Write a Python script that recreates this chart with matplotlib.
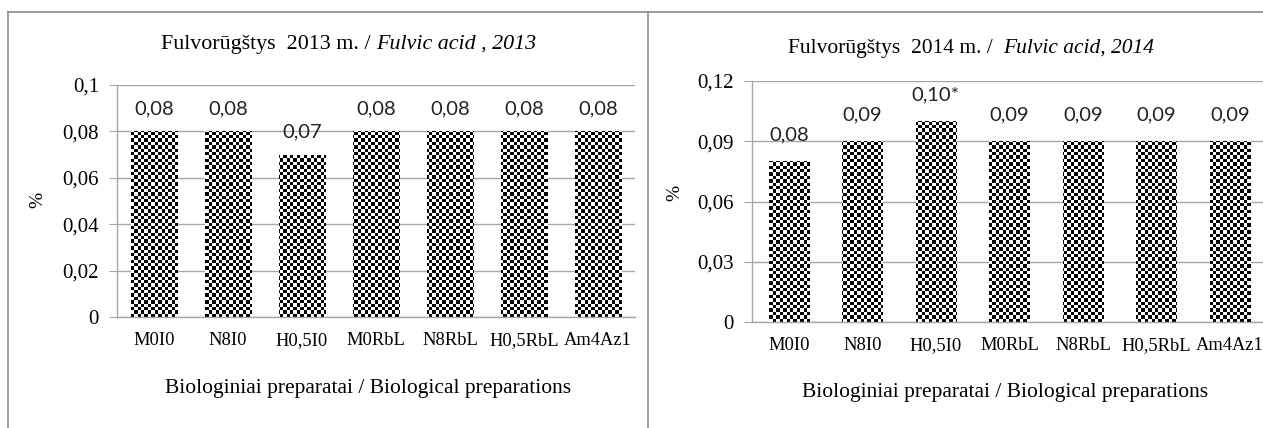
import numpy as np
import matplotlib
matplotlib.use("Agg")
import matplotlib.pyplot as plt
from matplotlib.ticker import MultipleLocator, FuncFormatter
from matplotlib.lines import Line2D

categories = ["M0I0", "N8I0", "H0,5I0", "M0RbL", "N8RbL", "H0,5RbL", "Am4Az1"]
values_2013 = [0.08, 0.08, 0.07, 0.08, 0.08, 0.08, 0.08]
labels_2013 = ["0,08", "0,08", "0,07", "0,08", "0,08", "0,08", "0,08"]
values_2014 = [0.08, 0.09, 0.10, 0.09, 0.09, 0.09, 0.09]
labels_2014 = ["0,08", "0,09", "0,10*", "0,09", "0,09", "0,09", "0,09"]

W, H = 1263, 428
fig = plt.figure(figsize=(W / 100, H / 100), dpi=100)

SERIF = "Liberation Serif"
SANS = "Lato"
GRID = "#a6a6a6"


def fx(px):
    return px / W


def fy(py):
    return 1 - py / H


def comma_fmt(v, pos):
    s = "%g" % round(v, 4)
    return s.replace(".", ",")


def checker_fill(ax, bars, cell=3.4):
    fig.canvas.draw()
    bb = ax.get_window_extent()
    nx = int(bb.width / cell) + 1
    ny = int(bb.height / cell) + 1
    yy, xx = np.mgrid[0:ny, 0:nx]
    board = ((xx + yy) % 2).astype(float)
    for b in bars:
        b.set_facecolor("white")
        b.set_edgecolor("none")
        im = ax.imshow(board, cmap="gray", vmin=0, vmax=1, extent=[0, 1, 0, 1],
                       transform=ax.transAxes, interpolation="nearest",
                       aspect="auto", zorder=2)
        im.set_clip_path(b)


def make_panel(rect, values, labels, ymax, step, offset_px, bw):
    ax = fig.add_axes(rect)
    x = np.arange(len(categories))
    bars = ax.bar(x, values, width=bw, color="black", zorder=2)
    ax.set_xlim(-0.5, len(categories) - 0.5)
    ax.set_ylim(0, ymax)
    ax.yaxis.set_major_locator(MultipleLocator(step))
    ax.yaxis.set_major_formatter(FuncFormatter(comma_fmt))
    ax.set_xticks(x)
    ax.set_xticklabels(categories, fontfamily=SERIF, fontsize=13.3)
    for lab in ax.get_yticklabels():
        lab.set_fontfamily(SERIF)
        lab.set_fontsize(15)
    ax.tick_params(axis="x", length=0, pad=11)
    ax.tick_params(axis="y", length=6, color=GRID, pad=7)
    ax.grid(axis="y", color=GRID, linewidth=1)
    ax.set_axisbelow(True)
    for s in ["top", "right"]:
        ax.spines[s].set_visible(False)
    for s in ["left", "bottom"]:
        ax.spines[s].set_color(GRID)
        ax.spines[s].set_linewidth(1)
    for b, v, lab in zip(bars, values, labels):
        ax.annotate(lab, (b.get_x() + b.get_width() / 2, v),
                    xytext=(0, offset_px), textcoords="offset pixels",
                    ha="center", va="center", fontfamily=SANS, fontsize=14.5,
                    color="#222222")
    return ax, bars


ax1, bars1 = make_panel([fx(117), fy(317), fx(635 - 117), (317 - 85) / H],
                        values_2013, labels_2013, 0.1, 0.02, 23, 0.63)
ax2, bars2 = make_panel([fx(752), fy(322), fx(1267 - 752), (322 - 81) / H],
                        values_2014, labels_2014, 0.12, 0.03, 26, 0.55)
checker_fill(ax1, bars1)
checker_fill(ax2, bars2)

# titles with mixed italic
fig.text(fx(376), fy(44), "Fulvorūgštys  2013 m. / ", ha="right", va="center",
         fontfamily=SERIF, fontsize=15.8)
fig.text(fx(376), fy(44), "Fulvic acid , 2013", ha="left", va="center",
         fontfamily=SERIF, fontsize=15.8, style="italic")
fig.text(fx(1003), fy(48), "Fulvorūgštys  2014 m. /  ", ha="right", va="center",
         fontfamily=SERIF, fontsize=15.5)
fig.text(fx(1003), fy(48), "Fulvic acid, 2014", ha="left", va="center",
         fontfamily=SERIF, fontsize=15.5, style="italic")

# axis labels
fig.text(fx(368), fy(389), "Biologiniai preparatai / Biological preparations",
         ha="center", va="center", fontfamily=SERIF, fontsize=15.5)
fig.text(fx(1005), fy(393), "Biologiniai preparatai / Biological preparations",
         ha="center", va="center", fontfamily=SERIF, fontsize=15.5)
fig.text(fx(38), fy(200), "%", rotation=90, ha="center", va="center",
         fontfamily=SERIF, fontsize=14)
fig.text(fx(675), fy(193), "%", rotation=90, ha="center", va="center",
         fontfamily=SERIF, fontsize=14)

# panel frames
fc = "#8c8c8c"
fig.add_artist(Line2D([fx(8), 1], [fy(12), fy(12)], color=fc, lw=1.2))
fig.add_artist(Line2D([fx(8), fx(8)], [fy(12), 0], color=fc, lw=1.2))
fig.add_artist(Line2D([fx(648), fx(648)], [fy(12), 0], color=fc, lw=1.2))

fig.savefig("out.png", dpi=100)
